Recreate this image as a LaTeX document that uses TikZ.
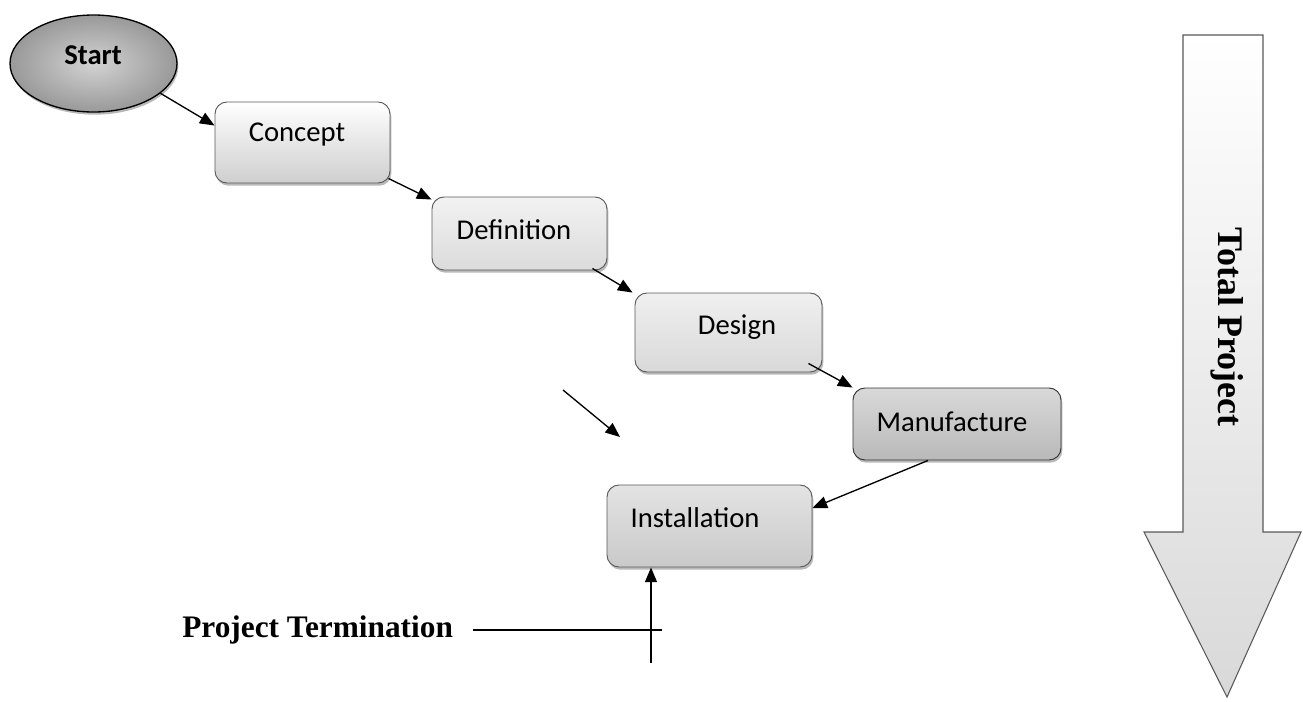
\documentclass[tikz,border=0pt]{standalone}
\usepackage{fontspec}
\setmainfont{Liberation Serif}
\newfontfamily\calib{Carlito}
\usetikzlibrary{shadows,arrows.meta,calc,shapes.geometric}
\begin{document}
\begin{tikzpicture}[x=0.75pt,y=-0.75pt,
  box/.style={draw=black!65, line width=0.7pt, rounded corners=9pt, inner sep=0pt,
    drop shadow={shadow xshift=1pt, shadow yshift=-2pt, fill=black!55}},
  lbl/.style={font=\calib\fontsize{21.5}{24}\selectfont, inner sep=0pt},
  arr/.style={line width=1pt, -{Triangle[length=11pt,width=9pt]}},
  ttl/.style={font=\bfseries\fontsize{23.5}{26}\selectfont, inner sep=0pt}]
\useasboundingbox (0,0) rectangle (1303,701);

% Start
\node[ellipse, draw=black, line width=1pt, minimum width=125.25pt, minimum height=72.75pt,
  inner color=gray!35, outer color=gray!80,
  drop shadow={shadow xshift=1pt, shadow yshift=-2pt, fill=black!55}] (start) at (93.5,63.5) {};
\node[lbl, font=\calib\bfseries\fontsize{21.5}{24}\selectfont] at (93,55) {Start};

% phase boxes
\node[box, minimum width=131.25pt, minimum height=60.75pt, top color=white, bottom color=gray!38] (concept) at (302.5,142.5) {};
\node[lbl] at (297,135) {Concept};

\node[box, minimum width=131.25pt, minimum height=54.75pt, top color=gray!10, bottom color=gray!28] (definition) at (519.5,233.5) {};
\node[lbl] at (514,230) {Definition};

\node[box, minimum width=140.25pt, minimum height=59.25pt, top color=gray!12, bottom color=gray!30] (design) at (728.5,332.5) {};
\node[lbl] at (737,327) {Design};

\node[box, draw=black!80, minimum width=156pt, minimum height=54pt, top color=gray!30, bottom color=gray!55] (manufacture) at (957,424) {};
\node[lbl] at (952,422) {Manufacture};

\node[box, minimum width=153.75pt, minimum height=61.5pt, top color=gray!22, bottom color=gray!42] (installation) at (709.5,526) {};
\node[lbl] at (695,518) {Installation};

% connectors
\draw[arr] (start.-24) -- ($(concept.west)+(0,-17)$);
\draw[arr] ($(concept.south east)+(-2,-5)$) -- ($(definition.north west)+(0,3)$);
\draw[arr] ($(definition.south east)+(-15,-2)$) -- ($(design.north west)+(-2,0)$);
\draw[arr] ($(design.south east)+(-14,-9)$) -- (manufacture.north west);
\draw[arr] ($(manufacture.south)+(-29,0)$) -- ($(installation.east)+(0,-18)$);

\coordinate (la) at (563,390);
\coordinate (lb) at (620,437);
\draw[arr] (la) -- (lb);

\coordinate (vt) at (651,663);
\draw[arr] (vt) -- (vt |- installation.south);

% project termination
\node[ttl, anchor=base west] (term) at (182,637) {Project Termination};
\coordinate (hs) at ($(term.east)+(20,0)$);
\coordinate (he) at (662,630);
\draw[line width=1pt] (hs |- he) -- (he);

% total project arrow
\draw[draw=black!65, line width=0.8pt, top color=white, bottom color=gray!30]
  (1183,35) -- (1263,35) -- (1263,532) -- (1301,532) -- (1227,697) -- (1144,532) -- (1183,532) -- cycle;
\node[font=\bfseries\fontsize{27}{30}\selectfont, rotate=-90, inner sep=0pt] (tp) at (1227,327) {Total Project};
\end{tikzpicture}
\end{document}
